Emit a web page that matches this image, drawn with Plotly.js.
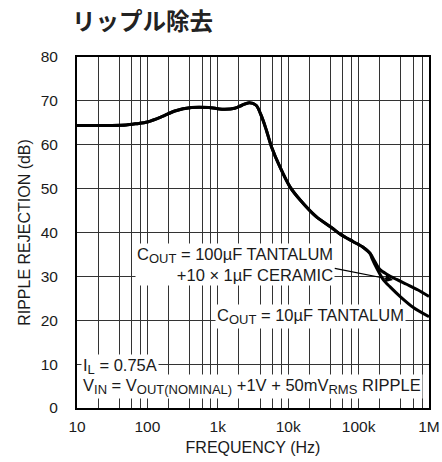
<!DOCTYPE html>
<html>
<head>
<meta charset="utf-8">
<script src="https://cdn.plot.ly/plotly-3.0.1.min.js"></script>
<style>html,body{margin:0;padding:0;background:#fff;}#chart{width:442px;height:462px;}</style>
</head>
<body>
<div id="chart"></div>
<script>
// Shared section of both curves (frequency in Hz, rejection in dB)
var commonFreq = [10, 30, 50, 70, 100, 160, 245, 425, 740, 1150, 1740, 2200, 2800, 3500, 4200, 4900, 5800, 7600, 10600, 14800, 25000, 43000, 55000, 84000, 117000, 146000];
var commonDb   = [64.4, 64.4, 64.5, 64.8, 65.2, 66.4, 67.7, 68.5, 68.5, 68.1, 68.3, 69.0, 69.6, 69.0, 66.4, 63.3, 59.5, 55.0, 50.4, 47.4, 43.6, 40.9, 39.6, 37.9, 36.6, 35.2];
// COUT = 100uF tantalum + 10 x 1uF ceramic (upper branch)
var ceramicFreq = [171000, 200000, 251000, 347000, 480000, 700000, 1000000];
var ceramicDb   = [33.3, 31.6, 30.5, 29.3, 28.2, 26.9, 25.4];
// COUT = 10uF tantalum (lower branch)
var tantalumFreq = [155000, 182000, 225000, 280000, 390000, 600000, 1000000];
var tantalumDb   = [34.1, 31.8, 29.2, 27.6, 25.4, 22.9, 20.8];
// Axis ticks
var xTickVals = [10, 100, 1000, 10000, 100000, 1000000];
var xTickText = ['10', '100', '1k', '10k', '100k', '1M'];
var xMinorVals = [20, 40, 60, 80, 200, 400, 600, 800, 2000, 4000, 6000, 8000, 20000, 40000, 60000, 80000, 200000, 400000, 600000, 800000];
var yTickVals = [0, 10, 20, 30, 40, 50, 60, 70, 80];

var FONT = '"Liberation Sans", Arial, Helvetica, sans-serif';
var TXT = '#1a1a1a';
function sub(s) { return '<sub><span style="font-size:13px">' + s + '</span></sub>'; }

var traces = [
  {x: commonFreq.concat(ceramicFreq), y: commonDb.concat(ceramicDb), mode: 'lines',
   line: {color: '#000', width: 3, shape: 'spline', smoothing: 0.8}, hoverinfo: 'skip'},
  {x: commonFreq.concat(tantalumFreq), y: commonDb.concat(tantalumDb), mode: 'lines',
   line: {color: '#000', width: 3, shape: 'spline', smoothing: 0.8}, hoverinfo: 'skip'}
];

var layout = {
  width: 442, height: 462,
  margin: {l: 77, r: 13, t: 57, b: 54},
  paper_bgcolor: '#fff', plot_bgcolor: '#fff',
  showlegend: false,
  font: {family: FONT, size: 15.5, color: TXT},
  title: {text: '<b>リップル除去</b>', font: {family: '"Noto Sans CJK JP", sans-serif', size: 23.5, color: '#222'},
          xref: 'container', x: 72 / 442, xanchor: 'left', yref: 'container', y: 1 - 22 / 462, yanchor: 'middle'},
  xaxis: {
    type: 'log', range: [1, 6],
    tickmode: 'array', tickvals: xTickVals, ticktext: xTickText,
    ticks: '', ticklabelstandoff: 3,
    showgrid: true, gridcolor: '#333', gridwidth: 1.2,
    minor: {tickmode: 'array', tickvals: xMinorVals, showgrid: true, gridcolor: '#333', gridwidth: 1, ticks: ''},
    showline: true, linecolor: '#000', linewidth: 2, mirror: true, zeroline: false,
    tickfont: {size: 15.5, color: TXT},
    title: {text: 'FREQUENCY (Hz)', font: {size: 16, color: TXT}, standoff: 8}
  },
  yaxis: {
    range: [0, 80], tickmode: 'array', tickvals: yTickVals,
    ticks: '', ticklabelstandoff: 14,
    showgrid: true, gridcolor: '#333', gridwidth: 1,
    showline: true, linecolor: '#000', linewidth: 2, mirror: true, zeroline: false,
    tickfont: {size: 15.5, color: TXT},
    title: {text: 'RIPPLE REJECTION (dB)', font: {size: 16, color: TXT}, standoff: 6}
  },
  annotations: [
    {xref: 'x', yref: 'y', x: 4.665, y: 32.6, xanchor: 'right', yanchor: 'middle', align: 'right',
     text: 'C' + sub('OUT') + ' = 100µF TANTALUM<br>+10 × 1µF CERAMIC', showarrow: false,
     bgcolor: '#fff', borderpad: 1, font: {size: 16.5, color: TXT}},
    {xref: 'x', yref: 'y', x: 5.489, y: 29.2, axref: 'x', ayref: 'y', ax: 4.64, ay: 31.9,
     text: '', showarrow: true, arrowhead: 2, arrowsize: 1.3, arrowwidth: 1.2, arrowcolor: '#000'},
    {xref: 'x', yref: 'y', x: 5.673, y: 20.8, xanchor: 'right', yanchor: 'middle',
     text: 'C' + sub('OUT') + ' = 10µF TANTALUM', showarrow: false,
     bgcolor: '#fff', borderpad: 1, font: {size: 16.5, color: TXT}},
    {xref: 'x', yref: 'y', x: 1.057, y: 9.4, xanchor: 'left', yanchor: 'middle',
     text: 'I' + sub('L') + ' = 0.75A', showarrow: false,
     bgcolor: '#fff', borderpad: 1, font: {size: 16.5, color: TXT}},
    {xref: 'x', yref: 'y', x: 1.057, y: 4.85, xanchor: 'left', yanchor: 'middle',
     text: 'V' + sub('IN') + ' = V' + sub('OUT(NOMINAL)') + ' +1V + 50mV' + sub('RMS') + ' RIPPLE', showarrow: false,
     bgcolor: '#fff', borderpad: 1, font: {size: 16.5, color: TXT}}
  ]
};

Plotly.newPlot('chart', traces, layout, {staticPlot: true, displayModeBar: false});
</script>
</body>
</html>
